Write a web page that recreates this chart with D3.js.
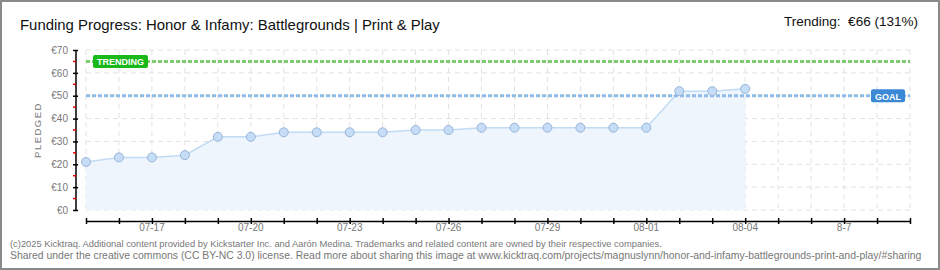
<!DOCTYPE html>
<html>
<head>
<meta charset="utf-8">
<script src="https://cdn.jsdelivr.net/npm/d3@7"></script>
<style>
  body { margin: 0; background: #fff; }
  svg { display: block; }
  text { font-family: "Liberation Sans", "DejaVu Sans", sans-serif; }
</style>
</head>
<body>
<svg id="drawing_region"></svg>
<script>
// daily pledged totals (EUR), 07-15 .. 08-04
const days = ["2025-07-15","2025-07-16","2025-07-17","2025-07-18","2025-07-19","2025-07-20","2025-07-21",
  "2025-07-22","2025-07-23","2025-07-24","2025-07-25","2025-07-26","2025-07-27","2025-07-28","2025-07-29",
  "2025-07-30","2025-07-31","2025-08-01","2025-08-02","2025-08-03","2025-08-04"];
const pledged = [21, 23, 23, 24, 32, 32, 34, 34, 34, 34, 35, 35, 36, 36, 36, 36, 36, 36, 52, 52, 53];
const goal = 50;
const trending = 65;
const yTicks = [0, 10, 20, 30, 40, 50, 60, 70];
const xLabelDays = ["2025-07-17","2025-07-20","2025-07-23","2025-07-26","2025-07-29","2025-08-01","2025-08-04","2025-08-07"];
const xLabels = ["07-17","07-20","07-23","07-26","07-29","08-01","08-04","8-7"];
const range = ["2025-07-15", "2025-08-09"];

const W = 940, H = 270;
const parse = d3.timeParse("%Y-%m-%d");
const data = days.map((d, i) => ({date: parse(d), value: pledged[i]}));

const svg = d3.select("#drawing_region").attr("width", W).attr("height", H);

const x = d3.scaleTime().domain(range.map(parse)).range([86, 910]);
const y = d3.scaleLinear().domain([0, 70]).range([210, 50]);

// shrink/grow font so text takes the given width
function fit(t, width) {
  const fs = +t.attr("font-size");
  const len = t.node().getComputedTextLength();
  t.attr("font-size", (fs * width / len).toFixed(2));
  return t;
}

// frame
svg.append("rect").attr("x", 1).attr("y", 1).attr("width", W - 2).attr("height", H - 2)
  .attr("fill", "#fff").attr("stroke", "#8a8a8a").attr("stroke-width", 2);

// title
fit(svg.append("text").attr("x", 20).attr("y", 30).attr("font-size", 16).attr("fill", "#111")
  .text("Funding Progress: Honor & Infamy: Battlegrounds | Print & Play"), 420);
fit(svg.append("text").attr("x", 918).attr("y", 26).attr("text-anchor", "end").attr("font-size", 15)
  .attr("fill", "#111").attr("xml:space", "preserve")
  .text("Trending:  €66 (131%)"), 134);

// grid
const dayTicks = d3.timeDay.range(x.domain()[0], d3.timeDay.offset(x.domain()[1], 1));
svg.append("g").selectAll("line").data(dayTicks).join("line")
  .attr("x1", d => x(d)).attr("x2", d => x(d)).attr("y1", 50).attr("y2", 210)
  .attr("stroke", "#e2e2e2").attr("stroke-dasharray", "5,4");
svg.append("g").selectAll("line").data(yTicks).join("line")
  .attr("x1", 86).attr("x2", 910).attr("y1", d => y(d)).attr("y2", d => y(d))
  .attr("stroke", "#e2e2e2").attr("stroke-dasharray", "5,4");

// area + line
svg.append("path").datum(data)
  .attr("d", d3.area().x(d => x(d.date)).y0(y(0)).y1(d => y(d.value)))
  .attr("fill", "#eef5fd");
svg.append("path").datum(data)
  .attr("d", d3.line().x(d => x(d.date)).y(d => y(d.value)))
  .attr("fill", "none").attr("stroke", "#c2dbf5").attr("stroke-width", 1.5);

// trending & goal lines
svg.append("line").attr("x1", 86).attr("x2", 910).attr("y1", y(trending)).attr("y2", y(trending))
  .attr("stroke", "#7dcc6f").attr("stroke-width", 3).attr("stroke-dasharray", "4,2");
svg.append("line").attr("x1", 86).attr("x2", 910).attr("y1", y(goal)).attr("y2", y(goal))
  .attr("stroke", "#8ebbe8").attr("stroke-width", 3).attr("stroke-dasharray", "4,2");

// points
svg.append("g").selectAll("circle").data(data).join("circle")
  .attr("cx", d => x(d.date)).attr("cy", d => y(d.value)).attr("r", 4.5)
  .attr("fill", "#c6ddf7").attr("stroke", "#98b4d6").attr("stroke-width", 1);

// labels on lines
function tag(x0, yc, w, label, color) {
  svg.append("rect").attr("x", x0).attr("y", yc - 6.5).attr("width", w).attr("height", 13)
    .attr("rx", 2).attr("fill", color);
  const t = svg.append("text").attr("x", x0 + w / 2).attr("y", yc + 3.8).attr("text-anchor", "middle")
    .attr("font-size", 10.5).attr("fill", "#fff").attr("font-family", "DejaVu Sans")
    .attr("font-weight", "bold").text(label);
  fit(t, w - 8);
  t.attr("font-size", Math.min(10.5, +t.attr("font-size")));
}
tag(93, y(trending), 55, "TRENDING", "#19b919");
tag(871, y(goal), 34, "GOAL", "#3a88d6");

// y axis
const yAxis = svg.append("g").attr("transform", "translate(76,0)")
  .call(d3.axisLeft(y).tickValues(yTicks).tickSize(3).tickPadding(5).tickFormat(d => "€" + d));
yAxis.select(".domain").attr("stroke", "#000").attr("stroke-width", 1.5).attr("d", "M0,50V210");
yAxis.selectAll(".tick line").attr("x1", 2).attr("x2", -3).attr("stroke", "#000").attr("stroke-width", 1.5);
yAxis.selectAll(".tick text").attr("fill", "#777").attr("font-size", 10).attr("font-family", "DejaVu Sans");
yAxis.append("g").selectAll("line").data(yTicks.slice(0, -1).map(d => d + 5)).join("line")
  .attr("x1", -3).attr("x2", 0).attr("y1", d => y(d)).attr("y2", d => y(d))
  .attr("stroke", "#e00").attr("stroke-width", 1.5);
svg.append("text").attr("transform", "translate(41,130) rotate(-90)").attr("text-anchor", "middle")
  .attr("font-size", 9.5).attr("fill", "#777").attr("letter-spacing", 1.5)
  .attr("font-family", "DejaVu Sans").text("PLEDGED");

// x axis
const xAxis = svg.append("g").attr("transform", "translate(0,221)")
  .call(d3.axisBottom(x).tickValues(dayTicks).tickSize(0).tickFormat(""));
xAxis.select(".domain").attr("stroke", "#000").attr("stroke-width", 1.5);
xAxis.selectAll(".tick line").attr("y1", -3).attr("y2", 3).attr("stroke", "#000").attr("stroke-width", 1.5);
svg.append("g").selectAll("text").data(xLabelDays).join("text")
  .attr("x", d => x(parse(d))).attr("y", 231).attr("text-anchor", "middle")
  .attr("font-family", "DejaVu Sans")
  .attr("font-size", 10).attr("fill", "#777").text((d, i) => xLabels[i]);

// footer
const foot = svg.append("g").attr("fill", "#777");
fit(foot.append("text").attr("x", 10).attr("y", 247).attr("font-size", 10)
  .text("(c)2025 Kicktraq. Additional content provided by Kickstarter Inc. and Aarón Medina. Trademarks and related content are owned by their respective companies."), 652);
fit(foot.append("text").attr("x", 10).attr("y", 259).attr("font-size", 10)
  .text("Shared under the creative commons (CC BY-NC 3.0) license. Read more about sharing this image at www.kicktraq.com/projects/magnuslynn/honor-and-infamy-battlegrounds-print-and-play/#sharing"), 912);
</script>
</body>
</html>
